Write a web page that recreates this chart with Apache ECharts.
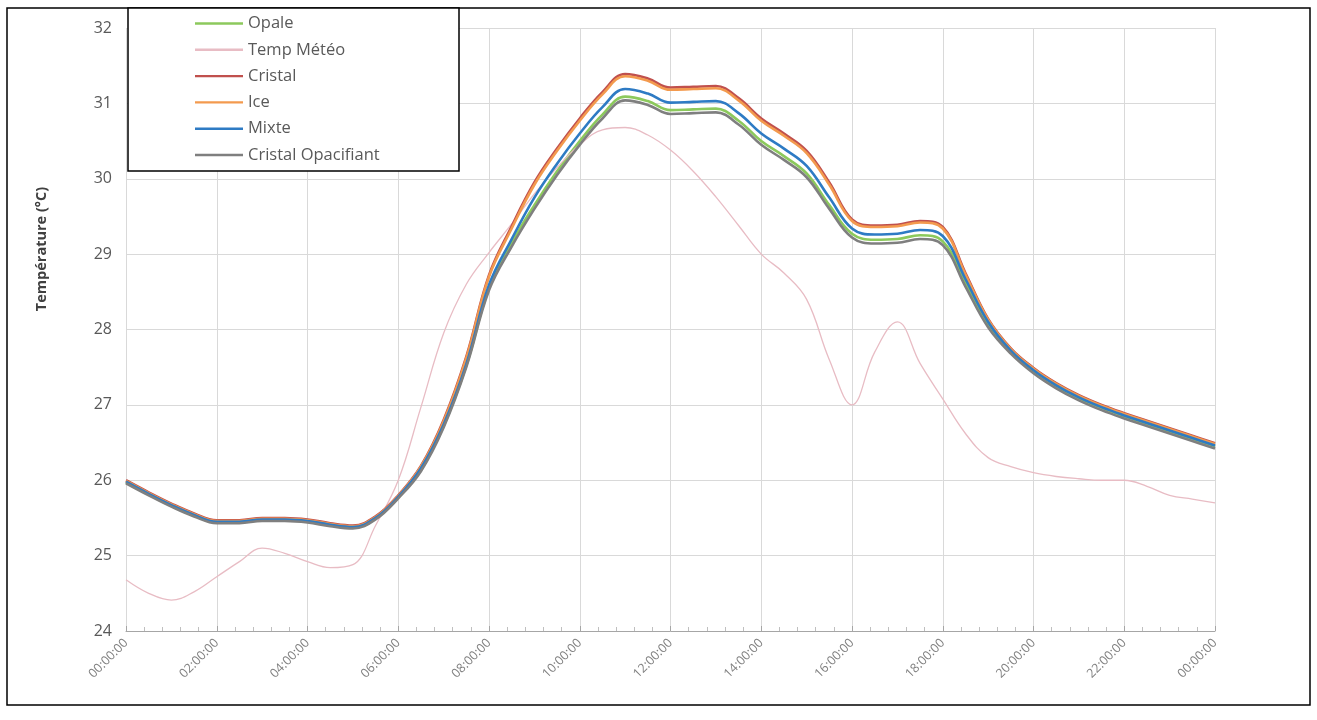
<!DOCTYPE html>
<html>
<head>
<meta charset="utf-8">
<script src="https://cdn.jsdelivr.net/npm/echarts@6/dist/echarts.min.js"></script>
<style>
  html, body { margin: 0; padding: 0; background: #fff; }
  #chart { width: 1317px; height: 720px; }
</style>
</head>
<body>
<div id="chart"></div>
<script>
// heures (pas de 30 min)
var hours = [0, 0.5, 1, 1.5, 2, 2.5, 3, 3.5, 4, 4.5, 5, 5.5, 6, 6.5, 7, 7.5, 8, 8.5, 9, 9.5,
  10, 10.5, 11, 11.5, 12, 12.5, 13, 13.5, 14, 14.5, 15, 15.5, 16, 16.5, 17, 17.5, 18, 18.5,
  19, 19.5, 20, 20.5, 21, 21.5, 22, 22.5, 23, 23.5, 24];

var seriesNames = ["Opale", "Temp Météo", "Cristal", "Ice", "Mixte", "Cristal Opacifiant"];

var opale = [25.97, 25.81, 25.66, 25.53, 25.44, 25.44, 25.47, 25.47, 25.45, 25.40, 25.37, 25.49, 25.77,
  26.14, 26.72, 27.52, 28.55,
  29.15, 29.65, 30.10, 30.50, 30.85, 31.09, 31.03, 30.91, 30.92, 30.93, 30.77, 30.50, 30.30, 30.07, 29.65,
  29.27, 29.19, 29.20, 29.25, 29.17, 28.62,
  28.06, 27.71, 27.45, 27.25, 27.09, 26.96, 26.85, 26.75, 26.65, 26.55, 26.45];

var tempMeteo = [24.68, 24.50, 24.41, 24.52, 24.72, 24.92, 25.10, 25.03, 24.92, 24.84, 24.88, 25.40, 26.00,
  26.97, 27.95, 28.60, 29.02, 29.40, 29.80, 30.15, 30.45, 30.65, 30.68, 30.58, 30.38, 30.10, 29.76, 29.38,
  29.00, 28.75, 28.40, 27.60, 27.00, 27.70, 28.10, 27.55, 27.08, 26.62, 26.30, 26.18, 26.10, 26.05, 26.02,
  26.00, 26.00, 25.92, 25.80, 25.75, 25.70];

var cristal = [26.00, 25.84, 25.69, 25.56, 25.47, 25.47, 25.50, 25.50, 25.48, 25.43, 25.40, 25.52, 25.80,
  26.19, 26.80, 27.64, 28.72, 29.37,
  29.95, 30.40, 30.80, 31.15, 31.39, 31.33, 31.21, 31.22, 31.23, 31.07, 30.80, 30.60, 30.37, 29.95,
  29.46, 29.38, 29.39, 29.44, 29.36, 28.75, 28.14,
  27.75, 27.49, 27.29, 27.13, 27.00, 26.89, 26.79, 26.69, 26.59, 26.49];

var ice = [25.99, 25.83, 25.68, 25.55, 25.46, 25.46, 25.49, 25.49, 25.47, 25.42, 25.39, 25.51, 25.79,
  26.18, 26.78, 27.62, 28.70, 29.34,
  29.92, 30.37, 30.77, 31.12, 31.36, 31.30, 31.18, 31.19, 31.20, 31.04, 30.77, 30.57, 30.34, 29.92,
  29.44, 29.36, 29.37, 29.42, 29.34, 28.73, 28.13,
  27.74, 27.48, 27.28, 27.12, 26.99, 26.88, 26.78, 26.68, 26.58, 26.48];

var mixte = [25.98, 25.82, 25.67, 25.54, 25.45, 25.45, 25.48, 25.48, 25.46, 25.41, 25.38, 25.50, 25.78,
  26.16, 26.74, 27.54, 28.59, 29.20,
  29.75, 30.20, 30.60, 30.95, 31.19, 31.13, 31.01, 31.02, 31.03, 30.87, 30.60, 30.40, 30.17, 29.75,
  29.34, 29.26, 29.27, 29.32, 29.24, 28.67, 28.10,
  27.72, 27.46, 27.26, 27.10, 26.97, 26.86, 26.76, 26.66, 26.56, 26.46];

var cristalOpac = [25.96, 25.80, 25.65, 25.52, 25.43, 25.43, 25.46, 25.46, 25.44, 25.39, 25.36, 25.48, 25.76,
  26.12, 26.70, 27.50, 28.52, 29.10, 29.60, 30.05, 30.45, 30.80, 31.04, 30.98, 30.86, 30.87, 30.88, 30.72,
  30.45, 30.25, 30.02, 29.60, 29.22, 29.14, 29.15, 29.20, 29.12, 28.57, 28.03, 27.68, 27.42, 27.22, 27.06,
  26.93, 26.82, 26.72, 26.62, 26.52, 26.42];

var values = [opale, tempMeteo, cristal, ice, mixte, cristalOpac];
var colors = ["#8cc95c", "#e8bcc4", "#c0504d", "#f39a4e", "#2e7bc4", "#7f7f7f"];
var widths = [2.6, 1.3, 2.6, 2.6, 2.6, 2.6];

var chart = echarts.init(document.getElementById("chart"));

var series = [];
for (var s = 0; s < seriesNames.length; s++) {
  var pts = [];
  for (var i = 0; i < hours.length; i++) {
    pts.push([hours[i], values[s][i]]);
  }
  series.push({
    name: seriesNames[s],
    type: "line",
    smooth: 0.4,
    symbol: "none",
    color: colors[s],
    lineStyle: { width: widths[s], color: colors[s] },
    data: pts
  });
}

function hhmm(v) {
  var h = v % 24;
  return (h < 10 ? "0" : "") + h + ":00:00";
}

var option = {
  animation: false,
  backgroundColor: "#fff",
  grid: { left: 126, right: 102, top: 28, bottom: 89 },
  xAxis: {
    type: "value",
    min: 0,
    max: 24,
    interval: 2,
    axisLine: { show: true, lineStyle: { color: "#a6a6a6", width: 1 } },
    axisTick: { show: true, inside: true, length: 5, lineStyle: { color: "#a6a6a6" } },
    minorTick: { show: true, splitNumber: 5, length: 4, lineStyle: { color: "#bfbfbf" } },
    splitLine: { show: true, lineStyle: { color: "#d9d9d9", width: 1 } },
    axisLabel: {
      rotate: 45,
      margin: 10,
      fontSize: 12.5,
      color: "#808080",
      fontFamily: "Open Sans",
      formatter: hhmm,
      showMaxLabel: true,
      showMinLabel: true
    }
  },
  yAxis: {
    type: "value",
    min: 24,
    max: 32,
    interval: 1,
    axisLine: { show: false },
    axisTick: { show: false },
    splitLine: { show: true, lineStyle: { color: "#d9d9d9", width: 1 } },
    axisLabel: { fontSize: 16, color: "#595959", fontFamily: "Open Sans", margin: 14 }
  },
  legend: {
    orient: "vertical",
    left: 195,
    top: 15,
    padding: 0,
    icon: "rect",
    itemWidth: 48,
    itemHeight: 2.4,
    itemGap: 9.3,
    z: 10,
    textStyle: { fontSize: 16.5, color: "#595959", fontFamily: "Open Sans" },
    data: seriesNames
  },
  graphic: [
    {
      type: "rect",
      z: 8,
      shape: { x: 7, y: 8, width: 1303, height: 697 },
      style: { fill: null, stroke: "#000", lineWidth: 1.5 }
    },
    {
      type: "rect",
      z: 8,
      shape: { x: 128, y: 8, width: 331, height: 163 },
      style: { fill: "#fff", stroke: "#000", lineWidth: 1.5 }
    },
    {
      type: "text",
      z: 8,
      x: 42,
      y: 249,
      rotation: Math.PI / 2,
      style: {
        text: "Température (°C)",
        fontSize: 14.5,
        fontWeight: "bold",
        fontFamily: "Open Sans",
        fill: "#404040",
        align: "center",
        verticalAlign: "middle"
      }
    }
  ],
  series: series
};

chart.setOption(option);
</script>
</body>
</html>
